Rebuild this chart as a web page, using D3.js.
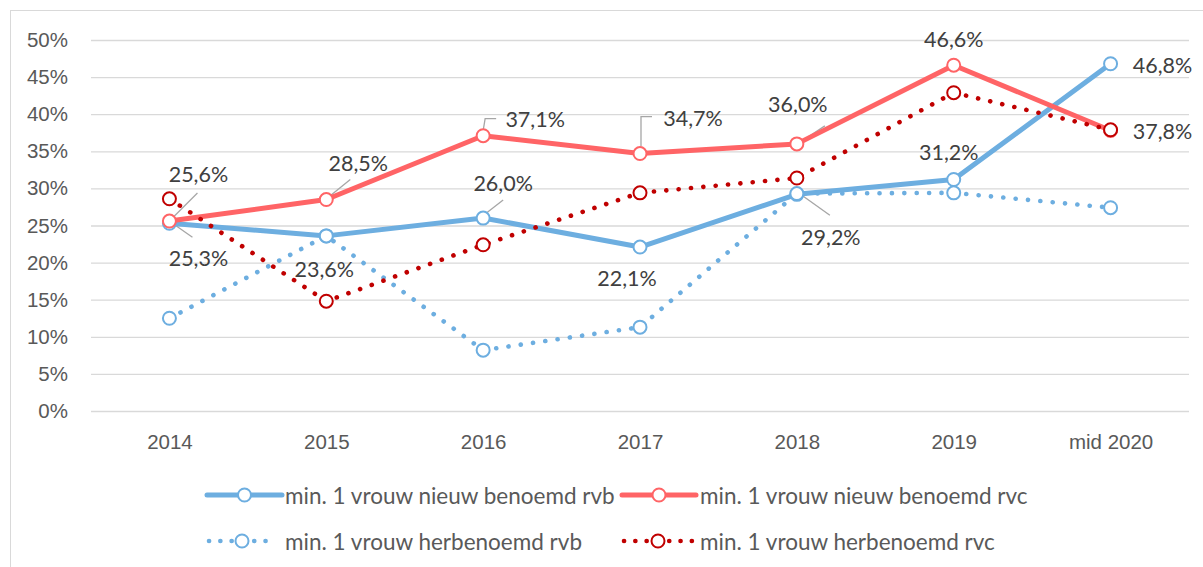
<!DOCTYPE html>
<html>
<head>
<meta charset="utf-8">
<script src="https://cdn.jsdelivr.net/npm/d3@7/dist/d3.min.js"></script>
<style>
  html, body { margin: 0; padding: 0; background: #fff; }
  svg { display: block; font-family: Lato, "Open Sans", sans-serif; }
</style>
</head>
<body>
<svg id="chart" width="1203" height="567"></svg>
<script>
// Years on the horizontal axis
const categories = ["2014", "2015", "2016", "2017", "2018", "2019", "mid 2020"];

// Share of appointments with at least one woman (percent)
const nieuwRvb = [25.3, 23.6, 26.0, 22.1, 29.2, 31.2, 46.8];
const nieuwRvc = [25.6, 28.5, 37.1, 34.7, 36.0, 46.6, 37.8];
const herbenoemdRvb = [12.5, 23.6, 8.2, 11.3, 29.3, 29.4, 27.4];
const herbenoemdRvc = [28.6, 14.8, 22.4, 29.4, 31.4, 42.9, 37.9];

const yTicks = [0, 5, 10, 15, 20, 25, 30, 35, 40, 45, 50];

const seriesNames = [
  "min. 1 vrouw nieuw benoemd rvb",
  "min. 1 vrouw nieuw benoemd rvc",
  "min. 1 vrouw herbenoemd rvb",
  "min. 1 vrouw herbenoemd rvc"
];

// Line styling per series
const styles = [
  { color: "#6daee0", width: 5, dotted: false },
  { color: "#ff6466", width: 5, dotted: false },
  { color: "#6daee0", width: 4.6, dotted: true },
  { color: "#c00000", width: 4.6, dotted: true }
];

// Label placement for the labelled series: text offset from point, optional leader path
const labelLayout = {
  0: [
    { dx: 29, dy: 35, leader: [[3, 0], [23, 14]] },
    { dx: -2, dy: 33 },
    { dx: 20, dy: -35, leader: [[2, -4], [20, -18]] },
    { dx: -13, dy: 31 },
    { dx: 34, dy: 43, leader: [[5, 1], [33, 21]] },
    { dx: -5, dy: -27 },
    { dx: 52, dy: 1 }
  ],
  1: [
    { dx: 29, dy: -47, leader: [[3, -3], [28, -28]] },
    { dx: 32, dy: -37, leader: [[3, -3], [24, -20]] },
    { dx: 52, dy: -17, leader: [[0, -5], [2, -17], [13, -17]] },
    { dx: 53, dy: -36, leader: [[1, -7], [1, -37], [12, -37]] },
    { dx: 1, dy: -40, leader: [[4, -2], [28, -18]] },
    { dx: 0, dy: -26 },
    { dx: 52, dy: 0 }
  ]
};

const svg = d3.select("#chart");

// Chart frame
svg.append("rect")
  .attr("x", 10.5).attr("y", 10.5)
  .attr("width", 1230).attr("height", 600)
  .attr("fill", "none").attr("stroke", "#d9d9d9").attr("stroke-width", 1);

const plot = { left: 91, right: 1189, top: 40, bottom: 411 };

const x = d3.scalePoint().domain(categories).range([plot.left, plot.right]).padding(0.5);
const y = d3.scaleLinear().domain([0, 50]).range([plot.bottom, plot.top]);

// Gridlines and y tick labels
const yAxis = d3.axisLeft(y).tickValues(yTicks).tickFormat(d => d + "%")
  .tickSize(-(plot.right - plot.left)).tickPadding(23);
const gy = svg.append("g").attr("transform", `translate(${plot.left},0)`).call(yAxis);
gy.select(".domain").remove();
gy.selectAll(".tick line").attr("stroke", "#d9d9d9").attr("stroke-width", 1.3);
gy.selectAll(".tick text").attr("fill", "#595959").style("font-size", "20.5px");

// x tick labels
const xAxis = d3.axisBottom(x).tickSize(0).tickPadding(23);
const gx = svg.append("g").attr("transform", `translate(0,${plot.bottom})`).call(xAxis);
gx.select(".domain").remove();
gx.selectAll(".tick text").attr("fill", "#595959").style("font-size", "20.5px");

const allSeries = [nieuwRvb, nieuwRvc, herbenoemdRvb, herbenoemdRvc];
const line = d3.line().x((d, i) => x(categories[i])).y(d => y(d));

// Leader lines sit beneath the series
Object.keys(labelLayout).forEach(si => {
  const vals = allSeries[si];
  labelLayout[si].forEach((lab, i) => {
    if (!lab.leader) return;
    const px = x(categories[i]), py = y(vals[i]);
    svg.append("path")
      .attr("d", d3.line()(lab.leader.map(p => [px + p[0], py + p[1]])))
      .attr("fill", "none").attr("stroke", "#a6a6a6").attr("stroke-width", 1.3);
  });
});

// Each series: line, then its markers, in series order
allSeries.forEach((vals, si) => {
  const s = styles[si];
  const g = svg.append("g");
  const path = g.append("path")
    .attr("d", line(vals))
    .attr("fill", "none")
    .attr("stroke", s.color)
    .attr("stroke-width", s.width)
    .attr("stroke-linejoin", "round")
    .attr("stroke-linecap", "round");
  if (s.dotted) path.attr("stroke-dasharray", "0.1 12.3");
  g.selectAll("circle")
    .data(vals)
    .join("circle")
    .attr("cx", (d, i) => x(categories[i]))
    .attr("cy", d => y(d))
    .attr("r", 6.5)
    .attr("fill", "#fff")
    .attr("stroke", s.color)
    .attr("stroke-width", 2);
});

// Value labels
const fmt = v => v.toFixed(1).replace(".", ",") + "%";
Object.keys(labelLayout).forEach(si => {
  const vals = allSeries[si];
  svg.append("g").selectAll("text")
    .data(vals)
    .join("text")
    .attr("x", (d, i) => x(categories[i]) + labelLayout[si][i].dx)
    .attr("y", (d, i) => y(d) + labelLayout[si][i].dy)
    .attr("text-anchor", "middle")
    .attr("dominant-baseline", "central")
    .attr("fill", "#404040")
    .style("font-size", "21.5px")
    .text(d => fmt(d));
});

// Legend
const legendItems = [
  { si: 0, x: 207, y: 495, len: 75 },
  { si: 1, x: 622, y: 495, len: 74 },
  { si: 2, x: 207, y: 541, len: 68 },
  { si: 3, x: 622, y: 541, len: 70 }
];
const legend = svg.append("g");
legendItems.forEach(it => {
  const s = styles[it.si];
  const g = legend.append("g").attr("transform", `translate(${it.x},${it.y})`);
  const l = g.append("line")
    .attr("x1", 0).attr("x2", it.len).attr("y1", 0).attr("y2", 0)
    .attr("stroke", s.color).attr("stroke-width", s.width)
    .attr("stroke-linecap", "round");
  if (s.dotted) l.attr("stroke-dasharray", "0.1 11.2").attr("x1", 2);
  g.append("circle").attr("cx", it.len / 2 + (s.dotted ? 1 : 0)).attr("cy", 0).attr("r", 6.5)
    .attr("fill", "#fff").attr("stroke", s.color).attr("stroke-width", 2);
  g.append("text")
    .attr("x", 78).attr("y", 0)
    .attr("dominant-baseline", "central")
    .attr("fill", "#595959")
    .style("font-size", "22.5px")
    .text(seriesNames[it.si]);
});
</script>
</body>
</html>
